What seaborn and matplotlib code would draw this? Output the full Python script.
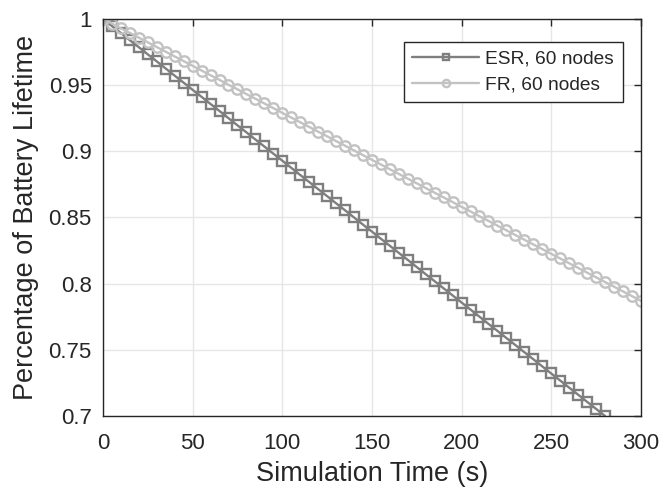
import matplotlib
matplotlib.use("Agg")
import matplotlib.pyplot as plt
import seaborn as sns
import pandas as pd

# ---- data ----
esr_time = list(range(0, 285, 5))
esr_values = [1.0000, 0.9946, 0.9893, 0.9839, 0.9786, 0.9732, 0.9679, 0.9625, 0.9571, 0.9518,
              0.9464, 0.9411, 0.9357, 0.9304, 0.9250, 0.9196, 0.9143, 0.9089, 0.9036, 0.8982,
              0.8929, 0.8875, 0.8821, 0.8768, 0.8714, 0.8661, 0.8607, 0.8554, 0.8500, 0.8446,
              0.8393, 0.8339, 0.8286, 0.8232, 0.8179, 0.8125, 0.8071, 0.8018, 0.7964, 0.7911,
              0.7857, 0.7804, 0.7750, 0.7696, 0.7643, 0.7589, 0.7536, 0.7482, 0.7429, 0.7375,
              0.7321, 0.7268, 0.7214, 0.7161, 0.7107, 0.7054, 0.7000]
fr_time = list(range(0, 305, 5))
fr_values = [1.0000, 0.9965, 0.9929, 0.9894, 0.9858, 0.9823, 0.9787, 0.9752, 0.9716, 0.9681,
             0.9645, 0.9610, 0.9574, 0.9539, 0.9503, 0.9468, 0.9432, 0.9397, 0.9361, 0.9326,
             0.9290, 0.9255, 0.9219, 0.9184, 0.9148, 0.9113, 0.9077, 0.9042, 0.9006, 0.8971,
             0.8935, 0.8900, 0.8864, 0.8829, 0.8793, 0.8758, 0.8722, 0.8687, 0.8651, 0.8616,
             0.8580, 0.8545, 0.8509, 0.8474, 0.8438, 0.8403, 0.8367, 0.8332, 0.8296, 0.8261,
             0.8225, 0.8190, 0.8154, 0.8119, 0.8083, 0.8048, 0.8012, 0.7977, 0.7941, 0.7906,
             0.7870]
series_labels = ["ESR, 60 nodes", "FR, 60 nodes"]
x_ticks = [0, 50, 100, 150, 200, 250, 300]
y_ticks = [0.7, 0.75, 0.8, 0.85, 0.9, 0.95, 1.0]
y_tick_labels = ["0.7", "0.75", "0.8", "0.85", "0.9", "0.95", "1"]

sns.set_theme(style="white")
plt.rcParams["font.family"] = ["Liberation Sans", "DejaVu Sans"]

df_esr = pd.DataFrame({"t": esr_time, "v": esr_values})
df_fr = pd.DataFrame({"t": fr_time, "v": fr_values})

fig = plt.figure(figsize=(6.6, 4.97), dpi=100)
ax = fig.add_axes([0.156, 0.163, 0.815, 0.799])

sns.lineplot(data=df_esr, x="t", y="v", ax=ax, color="#7f7f7f", lw=1.7,
             marker="s", markersize=7, markerfacecolor="none",
             markeredgecolor="#7f7f7f", markeredgewidth=1.7, label=series_labels[0])
sns.lineplot(data=df_fr, x="t", y="v", ax=ax, color="#c2c2c2", lw=1.7,
             marker="o", markersize=7.5, markerfacecolor="none",
             markeredgecolor="#c2c2c2", markeredgewidth=1.7, label=series_labels[1])

ax.set_xlim(0, 300)
ax.set_ylim(0.7, 1.0)
ax.set_xticks(x_ticks)
ax.set_yticks(y_ticks)
ax.set_yticklabels(y_tick_labels)
ax.grid(True, color="#e6e6e6", lw=1)
ax.set_axisbelow(True)
for s in ax.spines.values():
    s.set_visible(True)
    s.set_color("#262626")
    s.set_linewidth(1.0)
ax.tick_params(axis="both", direction="in", length=5, width=1, color="#262626",
               labelsize=16, labelcolor="#262626", top=True, right=True)
ax.tick_params(axis="y", pad=8)
ax.tick_params(axis="x", pad=12)
ax.set_xlabel("Simulation Time (s)", fontsize=19.5, color="#262626", labelpad=5)
ax.set_ylabel("Percentage of Battery Lifetime", fontsize=19.5, color="#262626", labelpad=7)

leg = ax.legend(loc="upper right", fontsize=13.8, frameon=True, fancybox=False,
                edgecolor="#262626", framealpha=1, borderpad=0.45, handlelength=3.5,
                labelspacing=0.45, handletextpad=0.3, markerscale=0.7,
                borderaxespad=0, bbox_to_anchor=(0.966, 0.943))
leg.get_frame().set_linewidth(1.0)

fig.savefig("out.png", dpi=100)
